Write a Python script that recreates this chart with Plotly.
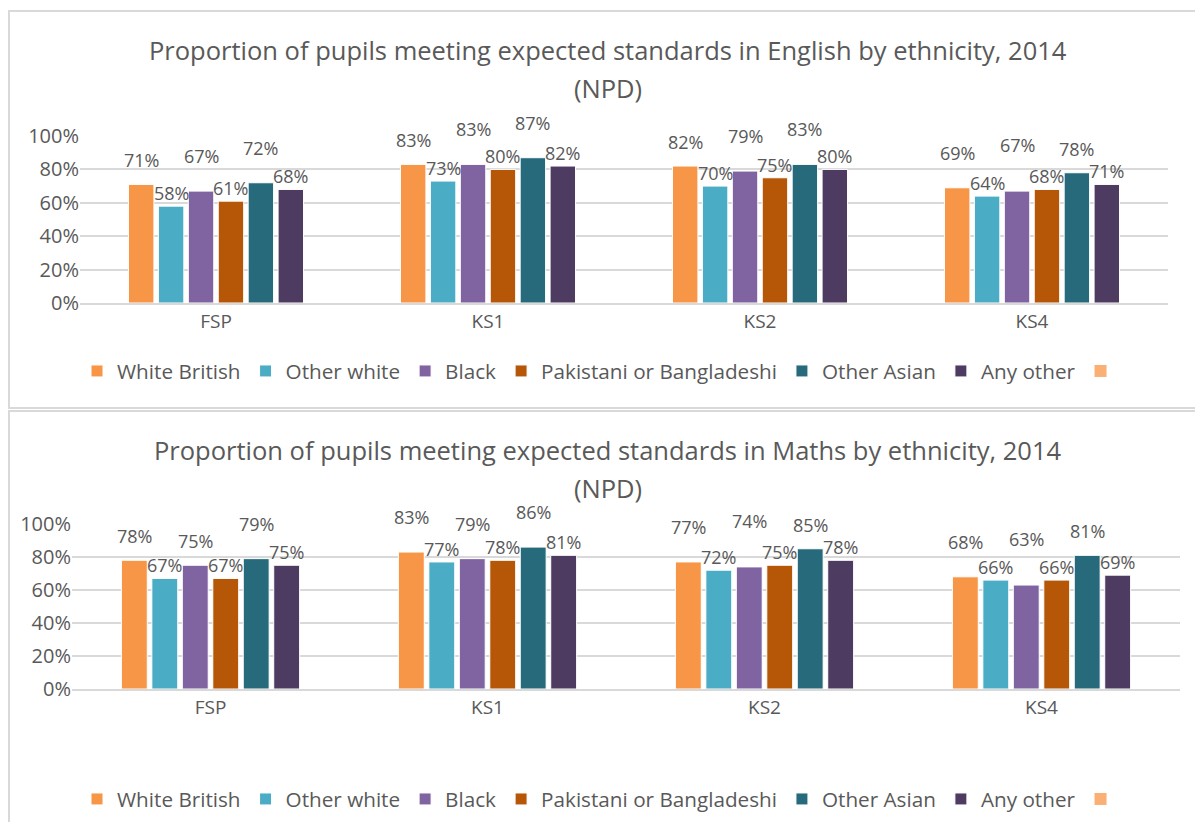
import itertools
import plotly.graph_objects as go

# page body adds an 8px margin, so the figure is a bit smaller than the window
OFF = 8
W, H = 1187, 814

stages = ["FSP", "KS1", "KS2", "KS4"]
groups = ["White British", "Other white", "Black", "Pakistani or Bangladeshi",
          "Other Asian", "Any other"]
colors = ["#F79646", "#4BACC6", "#8064A2", "#B65708", "#276A7C", "#4D3B62"]
extra_color = "#FAB074"

# values in %, one list per ethnic group (FSP, KS1, KS2, KS4)
english = {
    "White British": [71, 83, 82, 69],
    "Other white": [58, 73, 70, 64],
    "Black": [67, 83, 79, 67],
    "Pakistani or Bangladeshi": [61, 80, 75, 68],
    "Other Asian": [72, 87, 83, 78],
    "Any other": [68, 82, 80, 71],
}
maths = {
    "White British": [78, 83, 77, 68],
    "Other white": [67, 77, 72, 66],
    "Black": [75, 79, 74, 63],
    "Pakistani or Bangladeshi": [67, 78, 75, 66],
    "Other Asian": [79, 86, 85, 81],
    "Any other": [75, 81, 78, 69],
}

TXT = "#595959"
GRID = "#D9D9D9"
FONT = "Open Sans"
BARGAP = 0.34
LABEL_SIZE = 18
LABEL_SEP = 22                  # min vertical gap between neighbouring labels
LIFTS = [13, 24, 35, 46, 57]    # candidate label heights above a bar top, px


def px_x(x):
    return (x - OFF) / W


def px_y(y):
    return 1 - (y - OFF) / H


def pick_lifts(tops):
    """Lowest label lifts so that neighbouring labels don't collide."""
    best, best_cost = None, None
    for combo in itertools.product(LIFTS, repeat=len(tops)):
        pos = [t + c for t, c in zip(tops, combo)]
        if any(abs(a - b) < LABEL_SEP for a, b in zip(pos, pos[1:])):
            continue
        cost = sum(combo)
        if best_cost is None or cost < best_cost:
            best, best_cost = combo, cost
    return best or [LIFTS[0]] * len(tops)


fig = go.Figure()

panels = [
    # data, xaxis, yaxis, legend, x-domain px, y px of 100% / 0%
    (english, "x", "y", "legend", (80, 1168), (136, 303)),
    (maths, "x2", "y2", "legend2", (72, 1180), (524, 689)),
]

labels = []
for data, xa, ya, lg, xd, yd in panels:
    for g, c in zip(groups, colors):
        vals = [v / 100 for v in data[g]]
        fig.add_trace(go.Bar(
            x=stages, y=vals, name=g, xaxis=xa, yaxis=ya, legend=lg,
            marker=dict(color=c, line=dict(color="white", width=1)),
            customdata=data[g],
            hovertemplate=g + " %{x}: %{customdata}%<extra></extra>",
        ))
    # the stray unnamed entry at the end of the legend
    fig.add_trace(go.Scatter(
        x=[None], y=[None], mode="markers", name="", xaxis=xa, yaxis=ya,
        legend=lg, marker=dict(symbol="square", size=12, color=extra_color),
        hoverinfo="skip",
    ))

    # data labels, staggered so neighbours don't overlap
    ppu = yd[1] - yd[0]                      # px per 100%
    slot = (xd[1] - xd[0]) / len(stages) * (1 - BARGAP) / len(groups)
    for j, st in enumerate(stages):
        vals = [data[g][j] for g in groups]
        lifts = pick_lifts([v / 100 * ppu for v in vals])
        for i, (v, lift) in enumerate(zip(vals, lifts)):
            labels.append(dict(
                text=f"{v}%", x=st, y=v / 100, xref=xa, yref=ya,
                xshift=(i - (len(groups) - 1) / 2) * slot, yshift=lift,
                xanchor="center", yanchor="middle", showarrow=False,
                font=dict(size=LABEL_SIZE, color=TXT, family=FONT),
            ))

axis_common = dict(
    range=[0, 1], dtick=0.2, tickformat=".0%", gridcolor=GRID, gridwidth=1.5,
    zeroline=False, showline=False, ticks="", automargin=False,
    tickfont=dict(color=TXT, size=20, family=FONT), fixedrange=True,
)
xaxis_common = dict(
    showline=True, linecolor=GRID, linewidth=1.5, ticks="", automargin=False,
    tickfont=dict(color=TXT, size=19, family=FONT), showgrid=False,
)
legend_common = dict(
    orientation="h", x=0.5, xanchor="center", yanchor="middle",
    font=dict(size=20.7, color=TXT, family=FONT),
    traceorder="normal", itemclick=False, itemdoubleclick=False,
)
title_font = dict(size=25.5, color=TXT, family=FONT)


def title(text, y):
    return dict(text=text, x=px_x(608), y=px_y(y), xref="paper", yref="paper",
                xanchor="center", yanchor="middle", showarrow=False,
                font=title_font)


(_, _, _, _, xd1, yd1), (_, _, _, _, xd2, yd2) = panels

fig.update_layout(
    width=W, height=H,
    margin=dict(l=0, r=0, t=0, b=0, autoexpand=False),
    paper_bgcolor="white", plot_bgcolor="white",
    font=dict(family=FONT, color=TXT),
    barmode="group", bargap=BARGAP, bargroupgap=0.15,
    showlegend=True,
    xaxis=dict(domain=[px_x(xd1[0]), px_x(xd1[1])], anchor="y", **xaxis_common),
    yaxis=dict(domain=[px_y(yd1[1]), px_y(yd1[0])], anchor="x", **axis_common),
    xaxis2=dict(domain=[px_x(xd2[0]), px_x(xd2[1])], anchor="y2", **xaxis_common),
    yaxis2=dict(domain=[px_y(yd2[1]), px_y(yd2[0])], anchor="x2", **axis_common),
    legend=dict(y=px_y(371), **legend_common),
    legend2=dict(y=px_y(799), **legend_common),
    shapes=[
        dict(type="rect", xref="paper", yref="paper",
             x0=px_x(9), x1=1.1, y0=px_y(408), y1=px_y(11),
             line=dict(color=GRID, width=2)),
        dict(type="rect", xref="paper", yref="paper",
             x0=px_x(9), x1=1.1, y0=-0.1, y1=px_y(411),
             line=dict(color=GRID, width=2)),
    ],
    annotations=[
        title("Proportion of pupils meeting expected standards in English by ethnicity, 2014", 50),
        title("(NPD)", 88),
        title("Proportion of pupils meeting expected standards in Maths by ethnicity, 2014", 450),
        title("(NPD)", 488),
    ] + labels,
)

fig.write_html("out.html")
